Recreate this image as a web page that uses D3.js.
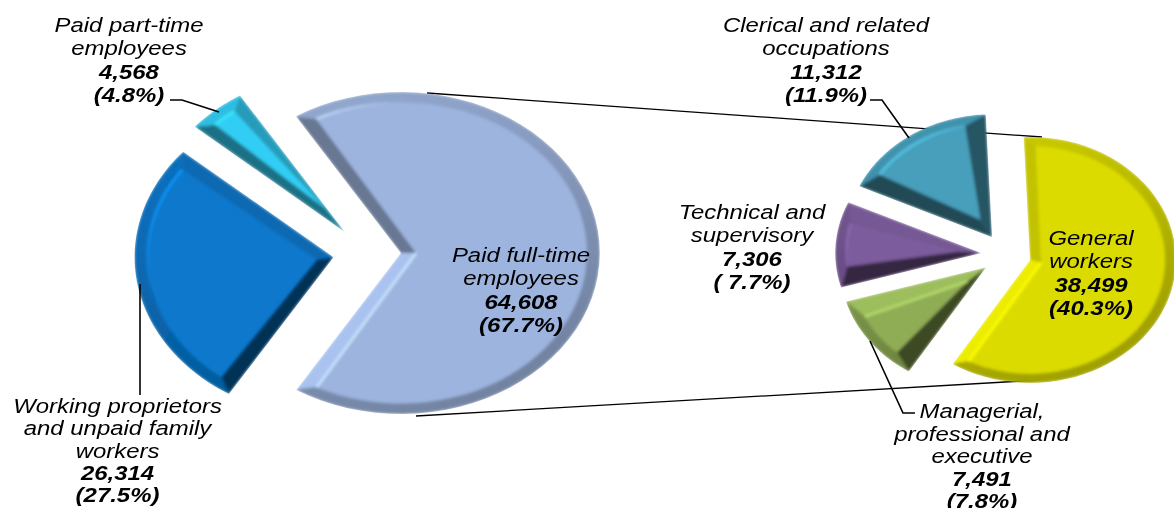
<!DOCTYPE html>
<html>
<head>
<meta charset="utf-8">
<script src="https://cdn.jsdelivr.net/npm/d3@7"></script>
<style>
  body { margin: 0; background: #fff; }
  svg { display: block; }
  text { font-family: "Liberation Sans", Arial, sans-serif; font-style: italic; fill: #000; }
</style>
</head>
<body>
<svg id="chart" width="1174" height="508"></svg>
<script>
let width = 1174, height = 508;

// Employment by type
const leftCategories = [["Paid full-time", "employees"], ["Working proprietors", "and unpaid family", "workers"], ["Paid part-time", "employees"]];
const leftValues = [64608, 26314, 4568];
const leftPercents = ["(67.7%)", "(27.5%)", "(4.8%)"];
const leftColors = ["#9db4de", "#0878cc", "#33cdf4"];

// Paid full-time employees by occupation
const rightCategories = [["General", "workers"], ["Managerial,", "professional and", "executive"], ["Technical and", "supervisory"], ["Clerical and related", "occupations"]];
const rightValues = [38499, 7491, 7306, 11312];
const rightPercents = ["(40.3%)", "(7.8%)", "( 7.7%)", "(11.9%)"];
const rightColors = ["#dbdb00", "#8fad55", "#7c5c9c", "#469fbb"];

const connectors = [
    [[427, 93], [1042, 137]],
    [[416, 416], [1040, 380]]
];
const leaders = [
    [[170, 100], [182, 100], [219, 112]],
    [[140, 284], [140, 395]],
    [[870, 100], [882, 100], [909, 138]],
    [[870, 341], [903, 413], [915, 413]]
];

let svg = d3.select("#chart")
    .attr("viewBox", "0 0 " + width + " " + height);

svg.append("rect").attr("width", width).attr("height", height).attr("fill", "#fff");

let defs = svg.append("defs");
defs.append("filter").attr("id", "soft")
    .attr("x", "-5%").attr("y", "-5%").attr("width", "110%").attr("height", "110%")
    .append("feGaussianBlur").attr("stdDeviation", 1.8);
defs.append("filter").attr("id", "softText")
    .attr("x", "-5%").attr("y", "-5%").attr("width", "110%").attr("height", "110%")
    .append("feGaussianBlur").attr("stdDeviation", 0.3);

let line = d3.line();

// connector lines go behind the slices
svg.append("g").selectAll("path")
    .data(connectors)
    .enter()
    .append("path")
    .attr("d", line)
    .attr("fill", "none")
    .attr("stroke", "#000")
    .attr("stroke-width", 1.3);

// light comes from the upper left
function lightDot(n) {
    return n[0] * -0.5 + n[1] * -0.87;
}
function shade(color, lit) {
    if (lit > 0) return d3.rgb(color).brighter(lit * 1.2).formatHex();
    return d3.interpolateRgb(color, "#000")(Math.min(-lit / 1.5, 1) * 0.58);
}

function drawPie(cfg) {
    let pie = d3.pie().sort(null)
        .startAngle(cfg.start)
        .endAngle(cfg.start + 2 * Math.PI);

    let slices = pie(cfg.values);
    let g = svg.append("g");

    slices.forEach((d, i) => {
        let mid = (d.startAngle + d.endAngle) / 2;
        let half = (d.endAngle - d.startAngle) / 2;
        let ox = cfg.cx + Math.sin(mid) * cfg.explode * cfg.rx;
        let oy = cfg.cy - Math.cos(mid) * cfg.explode * cfg.ry;
        let color = cfg.colors[i];

        let pt = (a, r) => [ox + cfg.rx * r * Math.sin(a), oy - cfg.ry * r * Math.cos(a)];
        let arcPts = (a0, a1, r) => d3.range(0, 61).map(k => pt(a0 + (a1 - a0) * k / 60, r));

        let b = cfg.bevel;
        let da = Math.min(b / cfg.rx / Math.max(Math.sin(half), 0.5), half * 0.5) * 1.1;
        let shift = Math.min(b / Math.sin(half), cfg.rx * 0.16);
        let apexIn = [ox + Math.sin(mid) * shift, oy - Math.cos(mid) * shift];
        let rIn = 1 - b / cfg.rx;
        let a0 = d.startAngle, a1 = d.endAngle;
        let c0 = pt(a0, 1), c1 = pt(a1, 1);
        let i0 = pt(a0 + da, rIn), i1 = pt(a1 - da, rIn);
        let apex = [ox, oy];
        let lighter = d3.rgb(color).brighter(0.7).formatHex();

        let id = "clip" + cfg.id + i;
        defs.append("clipPath").attr("id", id)
            .append("path")
            .attr("d", line([apex].concat(arcPts(a0, a1, 1))) + "Z");

        let slice = g.append("g").attr("clip-path", "url(#" + id + ")");
        let faces = slice.append("g").attr("filter", "url(#soft)");

        faces.append("path")
            .attr("d", line([apex].concat(arcPts(a0, a1, 1))) + "Z")
            .attr("fill", color);

        // straight sides
        let normal = (p, q, sign) => {
            let dx = q[0] - p[0], dy = q[1] - p[1], l = Math.hypot(dx, dy);
            return [sign * dy / l, -sign * dx / l];
        };
        let lit0 = lightDot(normal(apex, c0, 1)) - 0.75;
        let lit1 = lightDot(normal(apex, c1, -1)) - 0.75;
        faces.append("path")
            .attr("d", line([apex, c0, i0, apexIn]) + "Z")
            .attr("fill", shade(color, lit0));
        faces.append("path")
            .attr("d", line([apex, c1, i1, apexIn]) + "Z")
            .attr("fill", shade(color, lit1));

        // rim, cut in small pieces so the shade follows the curve
        d3.range(0, 60).forEach(k => {
            let s = a0 + (a1 - a0) * k / 60, e = a0 + (a1 - a0) * (k + 1) / 60;
            let sI = a0 + da + (a1 - a0 - 2 * da) * k / 60, eI = a0 + da + (a1 - a0 - 2 * da) * (k + 1) / 60;
            let m = (s + e) / 2;
            let n = [Math.sin(m) / cfg.rx, -Math.cos(m) / cfg.ry];
            let l = Math.hypot(n[0], n[1]);
            n = [n[0] / l, n[1] / l];
            let c = shade(color, -0.45 + 0.25 * lightDot(n));
            faces.append("path")
                .attr("d", line([pt(s, 1), pt(e, 1), pt(eI, rIn), pt(sI, rIn)]) + "Z")
                .attr("fill", c)
                .attr("stroke", c)
                .attr("stroke-width", 0.6);
        });

        // top face
        let inner = [apexIn].concat(arcPts(a0 + da, a1 - da, rIn));
        faces.append("path")
            .attr("d", line(inner) + "Z")
            .attr("fill", color);

        // thin highlights where the top face meets a lit edge
        d3.range(0, 60).forEach(k => {
            let sI = a0 + da + (a1 - a0 - 2 * da) * k / 60, eI = a0 + da + (a1 - a0 - 2 * da) * (k + 1) / 60;
            let m = (sI + eI) / 2;
            let nx = Math.sin(m), ny = -Math.cos(m);
            let o = Math.max(0, -nx) * Math.max(0, 0.3 - ny) * 1.5;
            if (o <= 0) return;
            faces.append("path")
                .attr("d", line([pt(sI, rIn), pt(eI, rIn)]))
                .attr("fill", "none")
                .attr("stroke", lighter)
                .attr("stroke-width", 2.4)
                .attr("opacity", Math.min(o, 1));
        });
        [[lit0, i0], [lit1, i1]].forEach(h => {
            if (h[0] <= 0) return;
            faces.append("path")
                .attr("d", line([apexIn, h[1]]))
                .attr("fill", "none")
                .attr("stroke", lighter)
                .attr("stroke-width", 2.4);
        });
    });
}

// start angles chosen so the big slice faces the other pie
drawPie({
    id: "l", values: leftValues, colors: leftColors,
    cx: 367, cy: 253, rx: 199, ry: 161, explode: 0.17, bevel: 13,
    start: -31.85 * Math.PI / 180
});
drawPie({
    id: "r", values: rightValues, colors: rightColors,
    cx: 1006, cy: 254.6, rx: 146, ry: 123, explode: 0.17, bevel: 11,
    start: -2.5 * Math.PI / 180
});

// leader lines
svg.append("g").selectAll("path")
    .data(leaders)
    .enter()
    .append("path")
    .attr("d", line)
    .attr("fill", "none")
    .attr("stroke", "#000")
    .attr("stroke-width", 1.6);

// labels: centre x, first baseline, line step
let comma = d3.format(",");
let labels = [
    { lines: leftCategories[2], value: leftValues[2], pct: leftPercents[2], x: 129, y: 32, lh: 23.3 },
    { lines: leftCategories[1], value: leftValues[1], pct: leftPercents[1], x: 117.5, y: 413, lh: 22.3 },
    { lines: leftCategories[0], value: leftValues[0], pct: leftPercents[0], x: 521, y: 262, lh: 23.4 },
    { lines: rightCategories[3], value: rightValues[3], pct: rightPercents[3], x: 826, y: 32, lh: 23.4 },
    { lines: rightCategories[2], value: rightValues[2], pct: rightPercents[2], x: 752, y: 219, lh: 23.4 },
    { lines: rightCategories[0], value: rightValues[0], pct: rightPercents[0], x: 1091, y: 245, lh: 23.4 },
    { lines: rightCategories[1], value: rightValues[1], pct: rightPercents[1], x: 982, y: 418, lh: 22.6 }
];

let label = svg.append("g").attr("filter", "url(#softText)").selectAll("g")
    .data(labels)
    .enter()
    .append("g")
    .attr("transform", d => "translate(" + d.x + "," + d.y + ") scale(1.14,1)");

label.each(function (d) {
    let el = d3.select(this);
    d.lines.forEach((t, i) => {
        el.append("text")
            .attr("y", i * d.lh)
            .attr("text-anchor", "middle")
            .attr("font-size", 21)
            .text(t);
    });
    [comma(d.value), d.pct].forEach((t, i) => {
        el.append("text")
            .attr("y", (d.lines.length + i) * d.lh)
            .attr("text-anchor", "middle")
            .attr("font-size", 21)
            .attr("font-weight", "bold")
            .text(t);
    });
});
</script>
</body>
</html>
